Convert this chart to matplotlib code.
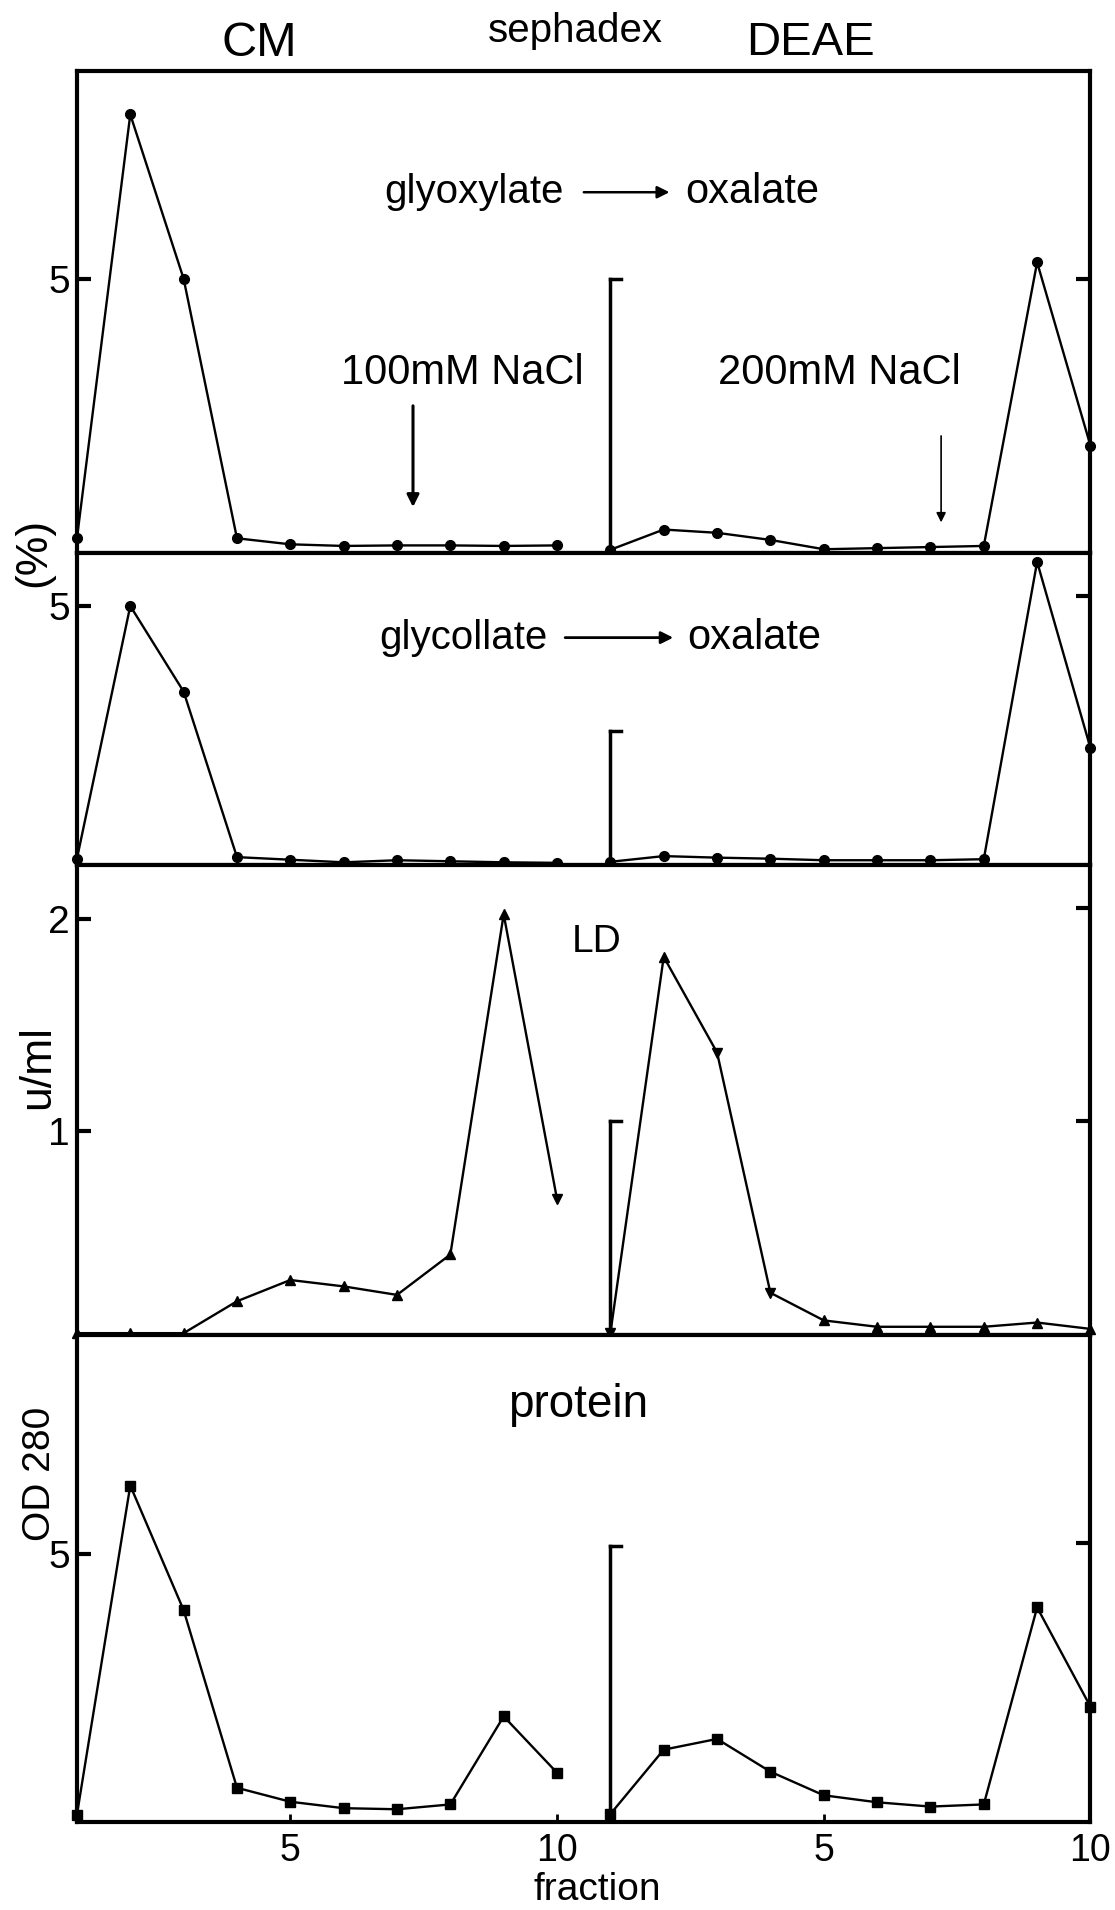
import matplotlib
matplotlib.use("Agg")
import matplotlib.pyplot as plt

plt.rcParams['font.family'] = ['Liberation Sans', 'DejaVu Sans']

# fractions of each column; DEAE fractions are drawn after the CM ones
fractions = list(range(1, 11))
cm_x = fractions
deae_x = [f + 10 for f in fractions]

# glyoxylate -> oxalate (%)
glyox_cm = [0.26, 8.0, 5.0, 0.26, 0.15, 0.12, 0.13, 0.13, 0.12, 0.13]
glyox_deae = [0.05, 0.42, 0.36, 0.23, 0.06, 0.08, 0.10, 0.12, 5.3, 1.95]

# glycollate -> oxalate (%)
glycol_cm = [0.13, 5.0, 3.35, 0.16, 0.11, 0.06, 0.10, 0.08, 0.06, 0.05]
glycol_deae = [0.07, 0.18, 0.15, 0.13, 0.10, 0.10, 0.10, 0.12, 5.85, 2.26]

# LD (u/ml)
ld_cm = [0.05, 0.05, 0.05, 0.20, 0.30, 0.27, 0.23, 0.42, 2.02, 0.68]
ld_deae = [0.05, 1.82, 1.37, 0.24, 0.11, 0.08, 0.08, 0.08, 0.10, 0.07]
ld_cm_markers = ['^'] * 9 + ['v']
ld_deae_markers = ['v', '^', 'v', 'v', '^', '^', '^', '^', '^', '^']

# protein (OD 280)
prot_cm = [0.14, 6.27, 3.95, 0.64, 0.38, 0.26, 0.24, 0.33, 1.97, 0.92]
prot_deae = [0.15, 1.35, 1.55, 0.94, 0.50, 0.37, 0.29, 0.33, 4.0, 2.15]

xtick_pos = [5, 10, 15, 20]
xtick_labels = ['5', '10', '5', '10']

fig = plt.figure(figsize=(11.15, 19.10), dpi=100)
gs = fig.add_gridspec(4, 1, left=0.069, right=0.978, top=0.963, bottom=0.046,
                      height_ratios=[482, 313, 470, 487], hspace=0)
axes = [fig.add_subplot(gs[i]) for i in range(4)]

panels = [
    (glyox_cm, glyox_deae, 'o', (0, 8.8), [5], 5.0, [5.0]),
    (glycol_cm, glycol_deae, 'o', (0, 6.03), [5], 2.6, [5.2]),
    (ld_cm, ld_deae, '^', (0.04, 2.25), [1, 2], 1.05, [1.05, 2.05]),
    (prot_cm, prot_deae, 's', (0, 9.07), [5], 5.15, [5.2]),
]

for ax, (cm, deae, mk, ylim, yt, divider_top, right_ticks) in zip(axes, panels):
    if mk == '^':
        ax.plot(cm_x, cm, color='black', lw=1.7, clip_on=False)
        ax.plot(deae_x, deae, color='black', lw=1.7, clip_on=False)
        for xs, ys, mks in [(cm_x, cm, ld_cm_markers), (deae_x, deae, ld_deae_markers)]:
            for x, y, m in zip(xs, ys, mks):
                ax.plot(x, y, marker=m, color='black', ms=7.5, clip_on=False)
    else:
        ax.plot(cm_x, cm, color='black', lw=1.7, marker=mk, ms=7, clip_on=False)
        ax.plot(deae_x, deae, color='black', lw=1.7, marker=mk, ms=7, clip_on=False)

    # divider between the two columns, with its own small tick
    ax.plot([11, 11], [ylim[0], divider_top], color='black', lw=2.5)
    ax.plot([11, 11.2], [divider_top, divider_top], color='black', lw=2.5)

    ax.set_xlim(1, 20)
    ax.set_ylim(*ylim)
    ax.set_yticks(yt)
    ax.set_yticklabels([str(t) for t in yt], fontsize=28)
    ax.tick_params(axis='y', direction='in', length=10, width=3, pad=5)
    for s in ax.spines.values():
        s.set_linewidth(3)

    rax = ax.twinx()
    rax.set_ylim(*ylim)
    rax.set_yticks(right_ticks)
    rax.set_yticklabels([])
    rax.tick_params(axis='y', direction='in', length=10, width=3)
    for s in rax.spines.values():
        s.set_visible(False)

    ax.set_xticks(xtick_pos)
    if ax is axes[-1]:
        ax.set_xticklabels(xtick_labels, fontsize=27)
        ax.tick_params(axis='x', direction='in', length=6, width=2, pad=8)
    else:
        ax.set_xticklabels([])
        ax.tick_params(axis='x', length=0)

# panel annotations
a1, a2, a3, a4 = axes
a1.text(8.45, 6.58, 'glyoxylate', fontsize=29, ha='center', va='center')
a1.annotate('', xy=(12.16, 6.58), xytext=(10.45, 6.58),
            arrowprops=dict(arrowstyle='-|>', color='black', lw=1.8, mutation_scale=18))
a1.text(13.66, 6.58, 'oxalate', fontsize=30, ha='center', va='center')

a1.text(8.22, 3.27, '100mM NaCl', fontsize=30, ha='center', va='center')
a1.annotate('', xy=(7.3, 0.78), xytext=(7.3, 2.73),
            arrowprops=dict(arrowstyle='-|>', color='black', lw=2.2, mutation_scale=18))
a1.text(15.3, 3.27, '200mM NaCl', fontsize=30, ha='center', va='center')
a1.annotate('', xy=(17.2, 0.5), xytext=(17.2, 2.18),
            arrowprops=dict(arrowstyle='-|>', color='black', lw=1.2, mutation_scale=14))

a2.text(8.24, 4.39, 'glycollate', fontsize=29, ha='center', va='center')
a2.annotate('', xy=(12.23, 4.39), xytext=(10.1, 4.39),
            arrowprops=dict(arrowstyle='-|>', color='black', lw=2.0, mutation_scale=18))
a2.text(13.7, 4.39, 'oxalate', fontsize=30, ha='center', va='center')

a3.text(10.75, 1.89, 'LD', fontsize=28, ha='center', va='center')
a4.text(10.4, 7.77, 'protein', fontsize=33, ha='center', va='center')

# headers and axis labels
fig.text(259 / 1115, 1 - 43 / 1910, 'CM', fontsize=35, ha='center', va='center')
fig.text(575 / 1115, 1 - 31 / 1910, 'sephadex', fontsize=29, ha='center', va='center')
fig.text(810 / 1115, 1 - 43 / 1910, 'DEAE', fontsize=34, ha='center', va='center')

fig.text(34 / 1115, 1 - 552 / 1910, '(%)', fontsize=32, rotation=90, ha='center', va='center')
fig.text(38 / 1115, 1 - 1067 / 1910, 'u/ml', fontsize=32, rotation=90, ha='center', va='center')
fig.text(40 / 1115, 1 - 1474 / 1910, 'OD 280', fontsize=28, rotation=90, ha='center', va='center')
fig.text(597 / 1115, 1 - 1890 / 1910, 'fraction', fontsize=28, ha='center', va='center')

fig.savefig('out.png', dpi=100, facecolor='white')
